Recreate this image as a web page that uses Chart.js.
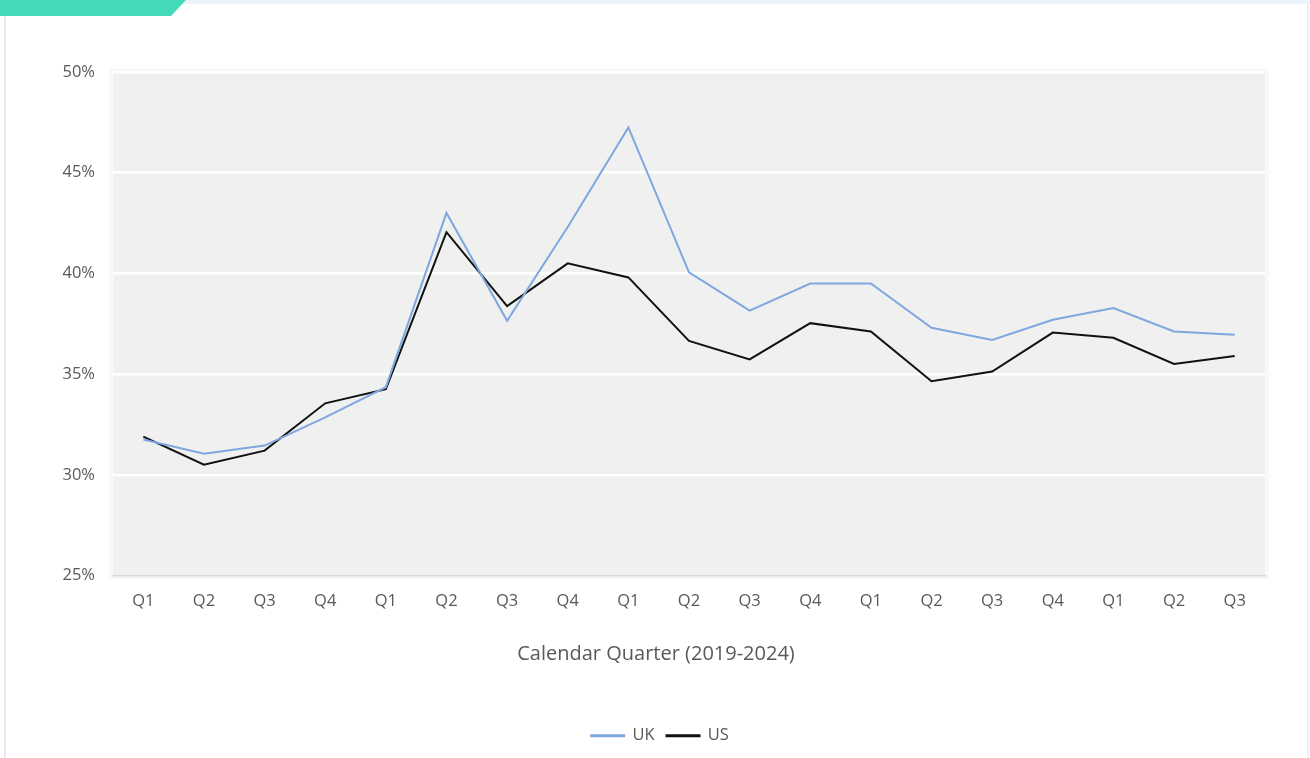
<!DOCTYPE html>
<html>
<head>
<meta charset="utf-8">
<title>UK vs US quarterly share</title>
<script src="https://cdn.jsdelivr.net/npm/chart.js@4.4.1/dist/chart.umd.min.js"></script>
<style>
  html, body { margin: 0; padding: 0; background: #fff; }
  body { width: 1310px; height: 758px; position: relative; overflow: hidden; }
  #wrap { position: absolute; left: 0; top: 0; width: 1310px; height: 758px; }
  .strip { position: absolute; left: 0; top: 0; width: 1310px; height: 4px; background: #eef3fb; }
  .tab { position: absolute; left: 0; top: 0; width: 186px; height: 16px; background: #43d9b9;
         clip-path: polygon(0 0, 100% 0, calc(100% - 15px) 100%, 0 100%); }
  .edge-l { position: absolute; left: 4px; top: 16px; width: 2px; height: 742px; background: #e7ecf3; }
  .edge-r { position: absolute; left: 1307px; top: 4px; width: 2px; height: 754px; background: #eeeeee; }
</style>
</head>
<body>
<div id="wrap"><canvas id="shareChart" width="1310" height="758"></canvas></div>
<div class="strip"></div>
<div class="tab"></div>
<div class="edge-l"></div>
<div class="edge-r"></div>
<script>
// Quarters 2019 Q1 .. 2023 Q3
const quarters = ["Q1", "Q2", "Q3", "Q4", "Q1", "Q2", "Q3", "Q4", "Q1", "Q2",
                  "Q3", "Q4", "Q1", "Q2", "Q3", "Q4", "Q1", "Q2", "Q3"];

// Share per quarter, in percent
const ukShare = [31.75, 31.05, 31.45, 32.85, 34.35, 43.0, 37.65, 42.3, 47.25, 40.05,
                 38.15, 39.5, 39.5, 37.3, 36.7, 37.7, 38.28, 37.12, 36.95];
const usShare = [31.9, 30.5, 31.2, 33.55, 34.25, 42.05, 38.38, 40.5, 39.8, 36.65,
                 35.73, 37.53, 37.12, 34.65, 35.13, 37.06, 36.8, 35.5, 35.9];

// y axis range / step
const yMin = 25;
const yMax = 50;
const yStep = 5;

const axisTitle = "Calendar Quarter (2019-2024)";
const textGray = "#595959";
const font = "'Open Sans', 'DejaVu Sans', sans-serif";

// grey plot background behind the lines
const plotBackground = {
  id: "plotBackground",
  beforeDraw(chart) {
    const { ctx, chartArea: a } = chart;
    ctx.save();
    ctx.strokeStyle = "#f7f7f7";
    ctx.lineWidth = 3;
    ctx.strokeRect(a.left - 2, a.top - 2, a.width + 4, a.height + 4);
    ctx.fillStyle = "#f0f0f0";
    ctx.fillRect(a.left, a.top, a.width, a.height);
    ctx.restore();
  },
};

// x axis title, centred on the whole figure rather than the plot area
const xTitle = {
  id: "xTitle",
  afterDraw(chart) {
    const { ctx, chartArea: a } = chart;
    ctx.save();
    ctx.fillStyle = textGray;
    ctx.font = "20px " + font;
    ctx.textAlign = "center";
    ctx.textBaseline = "middle";
    ctx.fillText(axisTitle, (a.left + a.right) / 2 - 33, a.bottom + 79);
    ctx.restore();
  },
};

const ctx = document.getElementById("shareChart").getContext("2d");
new Chart(ctx, {
  type: "line",
  data: {
    labels: quarters,
    datasets: [
      {
        label: "UK",
        data: ukShare,
        borderColor: "#7fa7df",
        backgroundColor: "#7fa7df",
        borderWidth: 2,
        pointRadius: 0,
        tension: 0,
      },
      {
        label: "US",
        data: usShare,
        borderColor: "#111111",
        backgroundColor: "#111111",
        borderWidth: 2,
        pointRadius: 0,
        tension: 0,
      },
    ],
  },
  options: {
    responsive: false,
    animation: false,
    devicePixelRatio: 1,
    layout: {
      padding: { top: 72, right: 45, left: 55, bottom: 4 },
    },
    scales: {
      x: {
        offset: true,
        grid: { display: false, drawTicks: false },
        border: { display: true, color: "#d9d9d9", width: 1.5 },
        ticks: {
          color: textGray,
          font: { family: font, size: 16.5 },
          padding: 16,
          maxRotation: 0,
          autoSkip: false,
        },
        afterFit(scale) {
          scale.height = 140;
        },
      },
      y: {
        min: yMin,
        max: yMax,
        grid: {
          drawTicks: false,
          lineWidth: 2.5,
          color: (c) => (c.tick && c.tick.value === yMin ? "rgba(0,0,0,0)" : "#ffffff"),
        },
        border: { display: false },
        ticks: {
          stepSize: yStep,
          color: textGray,
          font: { family: font, size: 16.5 },
          padding: 18,
          callback: (v) => v + "%",
        },
        afterFit(scale) {
          scale.width = 58;
        },
      },
    },
    plugins: {
      legend: {
        position: "bottom",
        labels: {
          color: textGray,
          font: { family: font, size: 16.5 },
          boxWidth: 33,
          boxHeight: 1,
          padding: 12,
        },
      },
      tooltip: { enabled: false },
    },
  },
  plugins: [plotBackground, xTitle],
});
</script>
</body>
</html>
